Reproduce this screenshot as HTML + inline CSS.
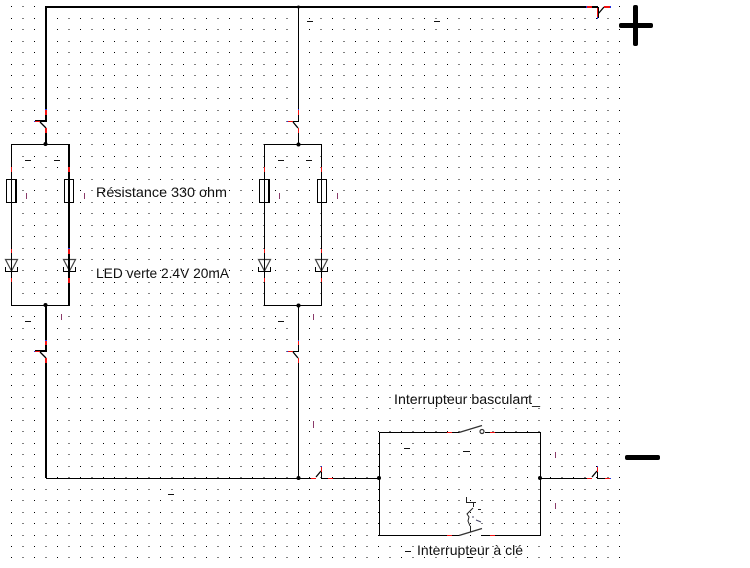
<!DOCTYPE html>
<html>
<head>
<meta charset="utf-8">
<style>
html,body{margin:0;padding:0;background:#fff;width:750px;height:568px;overflow:hidden}
svg{display:block}
text{font-family:"Liberation Sans",sans-serif;font-size:14px;fill:#111}
</style>
</head>
<body>
<svg width="750" height="568" viewBox="0 0 750 568" xmlns="http://www.w3.org/2000/svg">
<rect width="750" height="568" fill="#fff"/>
<path shape-rendering="crispEdges" fill="none" stroke="#000" stroke-width="1" stroke-dasharray="1 10.47" d="M11 6.5H622M11 18.5H622M11 29.5H622M11 41.5H622M11 52.5H622M11 64.5H622M11 75.5H622M11 87.5H622M11 98.5H622M11 110.5H622M11 121.5H622M11 133.5H622M11 144.5H622M11 156.5H622M11 167.5H622M11 179.5H622M11 190.5H622M11 202.5H622M11 213.5H622M11 225.5H622M11 236.5H622M11 248.5H622M11 259.5H622M11 270.5H622M11 282.5H622M11 293.5H622M11 305.5H622M11 316.5H622M11 328.5H622M11 339.5H622M11 351.5H622M11 362.5H622M11 374.5H622M11 385.5H622M11 397.5H622M11 408.5H622M11 420.5H622M11 431.5H622M11 443.5H622M11 454.5H622M11 466.5H622M11 477.5H622M11 489.5H622M11 500.5H622M11 512.5H622M11 523.5H622M11 535.5H622M11 546.5H622M11 557.5H622"/>

<!-- fuses (wires pass through them) -->
<g fill="#fff" stroke="#000" stroke-width="1" shape-rendering="crispEdges">
<rect x="6.5" y="179.5" width="9" height="23"/>
<rect x="64.5" y="179.5" width="9" height="23"/>
<rect x="259.5" y="179.5" width="9" height="23"/>
<rect x="317.5" y="179.5" width="9" height="23"/>
</g>
<path shape-rendering="crispEdges" fill="none" stroke="#000" stroke-width="1" d="M16.5 179V203M269.5 179V203"/>

<!-- LED triangles -->
<g fill="#fff" stroke="#444" stroke-width="1.2">
<path d="M5.5 259.5H17.5L11.5 271Z"/>
<path d="M63.5 259.5H75.5L69.5 271Z"/>
<path d="M258.5 259.5H270.5L264.5 271Z"/>
<path d="M315.5 259.5H327.5L321.5 271Z"/>
</g>
<g fill="none" stroke="#000" stroke-width="1" shape-rendering="crispEdges">
<path d="M5.5 267V271.5H17.5V267M63.5 267V271.5H75.5V267M258.5 267V271.5H270.5V267M315.5 267V271.5H327.5V267"/>
</g>

<g fill="none" stroke="#000" shape-rendering="crispEdges">
<path stroke-width="2" d="M46 121V7H598M598 7V18M35 121H47M46 128V144"/>
<path stroke-width="2" d="M46 305V351M35 351H47M46 358V478"/>
<path stroke-width="1" d="M298.5 7V121M288 121.5H299M298.5 128V144M298.5 305V351M288 351.5H299M298.5 358V478"/>
<path stroke-width="1" d="M11 144.5H69M264 144.5H322M11 305.5H69M264 305.5H322"/>
<path stroke-width="1" d="M11.5 144V305M264.5 144V305M321.5 144V305"/>
<path stroke-width="2" d="M69 144V306"/>
<path stroke-width="1" d="M46 478.5H316M321.5 466V478M321 478.5H380M540 478.5H592M597.5 466V478M597 478.5H610"/>
<path stroke-width="1" d="M379.5 432.5V535.5M540.5 432.5V535.5M379 432.5H459M485 432.5H541M379 535.5H459M481 535.5H541"/>
</g>

<!-- switch diagonals -->
<g fill="none" stroke="#000" stroke-width="1.3">
<path d="M40 122L46 128M293 122L298 128M40 352L46 358M293 352L298 358M316 477L321 471M592 477L597 471M598 14L604 7"/>
<path stroke="#333" d="M459 432.5L482 425.5M459 535.5L482 528.5"/>
</g>
<circle cx="482" cy="431.5" r="2" fill="#fff" stroke="#333" stroke-width="1.2"/>
<path fill="none" stroke="#222" stroke-width="1" d="M466.5 497V502.5H476M473.5 502V507M473 508L467 514L469 517L468 521L470 526M470.5 526V532M478 509.5H481"/>
<path fill="none" stroke="#446" stroke-width="1" d="M472 517H474M476 520L481 522"/>

<!-- red / blue connector ends -->
<g shape-rendering="crispEdges" fill="#f01010">
<rect x="45" y="110" width="2" height="5"/><rect x="45" y="128" width="2" height="5"/>
<rect x="35" y="121" width="5" height="1"/>
<rect x="298" y="110" width="1" height="5"/><rect x="298" y="128" width="1" height="5"/>
<rect x="288" y="121" width="5" height="1"/>
<rect x="45" y="341" width="2" height="4"/><rect x="45" y="358" width="2" height="5"/>
<rect x="35" y="351" width="5" height="1"/>
<rect x="298" y="341" width="1" height="4"/><rect x="298" y="358" width="1" height="5"/>
<rect x="288" y="351" width="5" height="1"/>
<rect x="11" y="167" width="1" height="5"/><rect x="68" y="167" width="2" height="5"/>
<rect x="264" y="167" width="1" height="5"/><rect x="321" y="167" width="1" height="5"/>
<rect x="68" y="249" width="2" height="5"/><rect x="68" y="278" width="2" height="5"/>
<rect x="11" y="249" width="1" height="4"/><rect x="11" y="278" width="1" height="4"/>
<rect x="264" y="249" width="1" height="4"/><rect x="264" y="278" width="1" height="4"/>
<rect x="321" y="249" width="1" height="4"/><rect x="321" y="278" width="1" height="4"/>
<rect x="587" y="6" width="5" height="2"/><rect x="604" y="6" width="6" height="2"/>
<rect x="597" y="8" width="1" height="9"/>
<rect x="311" y="478" width="5" height="1"/><rect x="328" y="478" width="5" height="1"/>
<rect x="321" y="467" width="1" height="5"/>
<rect x="587" y="478" width="5" height="1"/><rect x="605" y="478" width="5" height="1"/>
<rect x="597" y="467" width="1" height="5"/>
<rect x="447" y="432" width="5" height="1"/><rect x="490" y="432" width="5" height="1"/>
<rect x="447" y="535" width="5" height="1"/><rect x="490" y="535" width="5" height="1"/>
</g>
<g shape-rendering="crispEdges" fill="#2030e0">
<rect x="45" y="109" width="2" height="1"/><rect x="298" y="109" width="1" height="1"/>
<rect x="34" y="121" width="1" height="1"/><rect x="287" y="121" width="1" height="1"/>
<rect x="45" y="340" width="2" height="1"/><rect x="298" y="340" width="1" height="1"/>
<rect x="34" y="351" width="1" height="1"/><rect x="287" y="351" width="1" height="1"/>
<rect x="586" y="6" width="1" height="2"/><rect x="610" y="6" width="1" height="2"/>
<rect x="597" y="17" width="1" height="2"/>
<rect x="321" y="466" width="1" height="1"/><rect x="597" y="466" width="1" height="1"/>
<rect x="610" y="478" width="1" height="1"/>
<rect x="68" y="248" width="2" height="1"/>
</g>

<!-- junction dots -->
<g fill="#000">
<circle cx="45.5" cy="144" r="2"/><circle cx="298.5" cy="144.5" r="2"/>
<circle cx="45.5" cy="305" r="2"/><circle cx="298.5" cy="305.5" r="2"/>
<circle cx="298.5" cy="478" r="2"/><circle cx="298.5" cy="7" r="1.5"/>
<circle cx="379" cy="478" r="2"/><circle cx="540" cy="478" r="2"/>
</g>

<!-- stray marks -->
<g shape-rendering="crispEdges" fill="#111">
<rect x="25" y="160" width="6" height="1"/><rect x="54" y="160" width="6" height="1"/>
<rect x="278" y="160" width="6" height="1"/><rect x="306" y="160" width="6" height="1"/>
<rect x="25" y="321" width="6" height="1"/><rect x="278" y="321" width="6" height="1"/>
<rect x="307" y="21" width="6" height="1"/><rect x="434" y="21" width="6" height="1"/>
<rect x="168" y="494" width="6" height="1"/>
<rect x="404" y="448" width="6" height="1"/><rect x="463" y="451" width="7" height="1"/>
<rect x="405" y="551" width="6" height="1"/><rect x="467" y="557" width="6" height="1"/>
</g>
<g shape-rendering="crispEdges" fill="#8a3a6a">
<rect x="26" y="193" width="1" height="6"/><rect x="84" y="193" width="1" height="6"/>
<rect x="279" y="193" width="1" height="6"/><rect x="337" y="193" width="1" height="6"/>
<rect x="61" y="314" width="1" height="6"/><rect x="313" y="314" width="1" height="6"/>
<rect x="313" y="421" width="1" height="7"/>
<rect x="555" y="452" width="1" height="6"/><rect x="555" y="503" width="1" height="6"/>
</g>

<!-- plus and minus -->
<rect x="633" y="5" width="5" height="41" rx="2" fill="#000"/>
<rect x="619" y="23" width="34" height="5" rx="2" fill="#000"/>
<rect x="625" y="455" width="35" height="5" rx="2" fill="#000"/>

<!-- labels -->
<text x="96" y="197" textLength="131" lengthAdjust="spacingAndGlyphs">Résistance 330 ohm</text>
<text x="96" y="278" textLength="133" lengthAdjust="spacingAndGlyphs">LED verte 2.4V 20mA</text>
<text x="394" y="404" textLength="146" lengthAdjust="spacingAndGlyphs">Interrupteur basculant_</text>
<text x="417" y="555" textLength="106" lengthAdjust="spacingAndGlyphs">Interrupteur à clé</text>
</svg>
</body>
</html>
